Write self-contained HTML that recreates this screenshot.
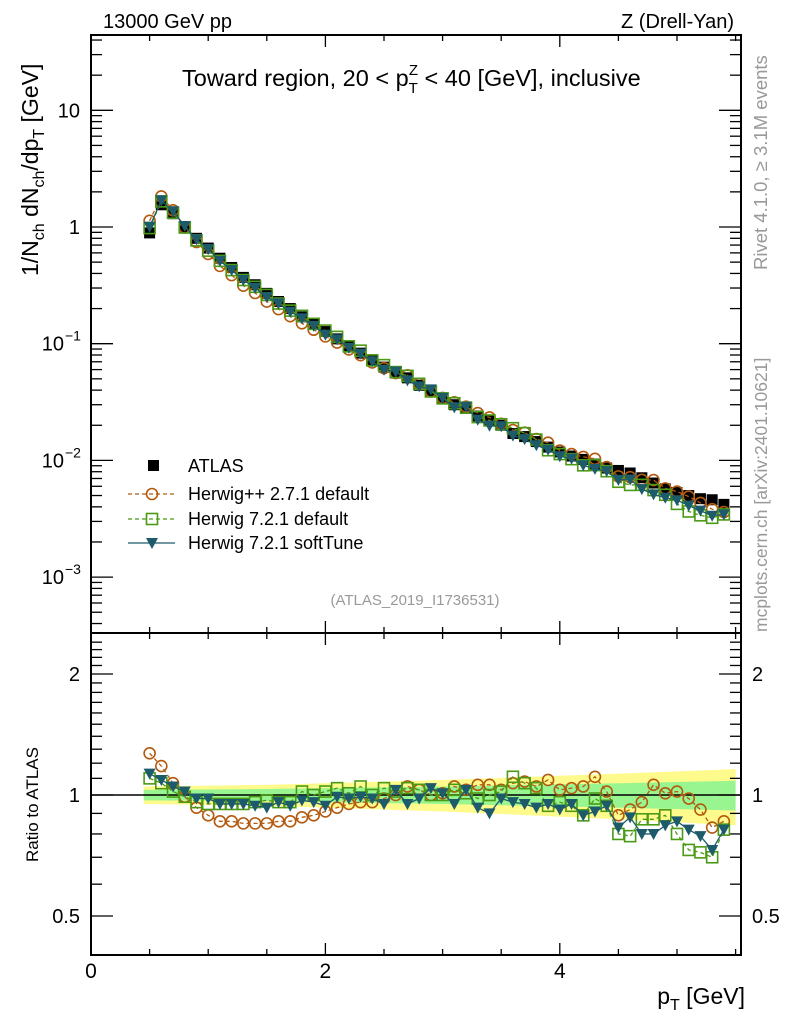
<!DOCTYPE html>
<html><head><meta charset="utf-8"><style>
html,body{margin:0;padding:0;background:#fff;width:786px;height:1024px;overflow:hidden}
svg{display:block;font-family:"Liberation Sans",sans-serif}
</style></head><body>
<svg id="chart" width="786" height="1024" xmlns="http://www.w3.org/2000/svg"></svg>
<script>
const xValues=[0.5,0.6,0.7,0.8,0.9,1.0,1.1,1.2,1.3,1.4,1.5,1.6,1.7,1.8,1.9,2.0,2.1,2.2,2.3,2.4,2.5,2.6,2.7,2.8,2.9,3.0,3.1,3.2,3.3,3.4,3.5,3.6,3.7,3.8,3.9,4.0,4.1,4.2,4.3,4.4,4.5,4.6,4.7,4.8,4.9,5.0,5.1,5.2,5.3,5.4];
const atlasValues=[0.89,1.55,1.3,1.0,0.80,0.66,0.54,0.45,0.37,0.32,0.27,0.23,0.20,0.17,0.148,0.127,0.11,0.094,0.083,0.072,0.063,0.056,0.051,0.044,0.039,0.034,0.030,0.028,0.024,0.022,0.020,0.017,0.016,0.0145,0.013,0.0118,0.0109,0.0102,0.0093,0.0086,0.0082,0.0078,0.0071,0.0064,0.0057,0.0053,0.0050,0.0047,0.0046,0.0042];
const ratioHerwigPP=[1.27,1.18,1.07,0.99,0.93,0.89,0.86,0.86,0.85,0.85,0.85,0.86,0.86,0.88,0.89,0.91,0.93,0.95,0.96,0.96,0.98,1.0,1.05,1.03,1.0,1.01,1.05,1.03,1.06,1.06,1.03,1.07,1.08,1.05,1.09,1.03,1.04,1.05,1.11,1.02,0.89,0.92,0.96,1.06,1.01,1.02,0.98,0.92,0.83,0.86];
const ratioHerwig721=[1.10,1.07,1.02,0.99,0.96,0.95,0.95,0.95,0.95,0.96,0.97,0.96,0.96,1.02,1.0,1.02,1.04,1.01,1.05,1.0,1.04,1.02,1.04,1.03,1.0,1.0,1.03,1.01,0.98,1.0,1.02,1.11,1.07,1.04,0.94,0.96,0.94,0.89,0.98,0.94,0.80,0.79,0.87,0.87,0.89,0.80,0.73,0.72,0.70,0.82];
const ratioSoftTune=[1.13,1.09,1.05,1.02,0.98,0.98,0.95,0.95,0.95,0.94,0.93,0.96,0.94,0.97,0.96,0.94,0.99,0.98,0.99,0.98,0.95,1.03,0.95,0.98,1.04,1.01,0.95,1.03,0.93,0.90,0.98,0.96,0.95,0.93,0.95,0.92,0.95,0.89,0.91,0.94,0.83,0.88,0.80,0.80,0.84,0.86,0.82,0.79,0.73,0.82];
const bandX=[0.45,1.5,3.0,4.5,5.5];
const bandInner=[0.03,0.035,0.05,0.07,0.085];
const bandOuter=[0.05,0.06,0.09,0.13,0.16];
const xTickLabels=["0","2","4"];
const mainTickLabels=[[1,"10"],[0,"1"],[-1,"10","−1"],[-2,"10","−2"],[-3,"10","−3"]];
const ratioTickLabels=[[2,"2"],[1,"1"],[0.5,"0.5"]];

const L=91,R=741,MT=35,MB=633,RT=633,RB=955;
const XMAX=(R-L)/117.2;
const sx=x=>L+x*117.2;
const sy=v=>227-Math.log10(v)*116.7;
const sr=r=>795-Math.log2(r)*121;
const svg=document.getElementById('chart');
const NS="http://www.w3.org/2000/svg";
function mk(tag,attrs,parent){const e=document.createElementNS(NS,tag);for(const k in attrs)e.setAttribute(k,attrs[k]);(parent||svg).appendChild(e);return e;}
function txt(s,attrs,parent){const e=mk('text',attrs,parent);e.textContent=s;return e;}

function bandPoly(arr,color,name){
  let up=bandX.map((x,i)=>sx(x)+','+sr(1+arr[i]));
  let dn=bandX.map((x,i)=>sx(x)+','+sr(1-arr[i])).reverse();
  const p=mk('polygon',{points:up.concat(dn).join(' '),fill:color});
  
  
}
bandPoly(bandOuter,'#fffa8c','ratio-band-total');
bandPoly(bandInner,'#98f590','ratio-band-stat');
const ref=mk('line',{x1:L,x2:R,y1:sr(1),y2:sr(1),stroke:'#000','stroke-width':1.5});



const f1=mk('rect',{x:L,y:MT,width:R-L,height:MB-MT,fill:'none',stroke:'#000','stroke-width':2});


const f2=mk('rect',{x:L,y:RT,width:R-L,height:RB-RT,fill:'none',stroke:'#000','stroke-width':2});



const axg=mk('g',{stroke:'#000','stroke-width':1.3});


for(let t=0;t<=XMAX+1e-6;t+=0.5){
  const maj=Math.abs(t%2)<1e-6, len=maj?12:6, x=sx(t);
  [[MT,1],[MB,-1],[RT,1],[RB,-1]].forEach(([y,d])=>mk('line',{x1:x,x2:x,y1:y,y2:y+d*len},axg));
}
xTickLabels.forEach((s,i)=>{const t=txt(s,{x:sx(i*2),y:978,'font-size':21,'text-anchor':'middle'});
  });
const yg=mk('g',{stroke:'#000','stroke-width':1.3});


for(let d=-4;d<=2;d++)for(let m=1;m<10;m++){
  const v=m*Math.pow(10,d),y=sy(v); if(y<MT||y>MB)continue;
  const len=m==1?22:11;
  mk('line',{x1:L,x2:L+len,y1:y,y2:y},yg);mk('line',{x1:R,x2:R-len,y1:y,y2:y},yg);
}
mainTickLabels.forEach(t=>{
  const y=sy(Math.pow(10,t[0]));
  const e=txt(t[1],{x:t[2]?64:80,y:y+7,'font-size':20,'text-anchor':'end'});
  
  if(t[2]){const s=txt(t[2],{x:65,y:y-3,'font-size':14});
    }
});
const rg=mk('g',{stroke:'#000','stroke-width':1.3});


[0.4,0.5,0.6,0.7,0.8,0.9,1,1.1,1.2,1.3,1.4,1.5,1.6,1.7,1.8,1.9,2,2.1,2.2,2.3,2.4].forEach(v=>{
  const y=sr(v); if(y<RT||y>RB)return;
  const maj=(v==0.5||v==1||v==2),len=maj?22:11;
  mk('line',{x1:L,x2:L+len,y1:y,y2:y},rg);mk('line',{x1:R,x2:R-len,y1:y,y2:y},rg);
});
ratioTickLabels.forEach(t=>{
  const y=sr(t[0])+7;
  const a=txt(t[1],{x:80,y:y,'font-size':20,'text-anchor':'end'});
  
  const b=txt(t[1],{x:752,y:y,'font-size':20});
  
});

const C_OR='#b35a0f',C_GR='#4b9a15',C_BL='#1d5b6b';
function drawCircle(g,x,y){mk('circle',{cx:x,cy:y,r:5.5,fill:'none',stroke:C_OR,'stroke-width':1.6},g);}
function drawSquare(g,x,y){mk('rect',{x:x-5.5,y:y-5.5,width:11,height:11,fill:'none',stroke:C_GR,'stroke-width':1.6},g);}
function drawTri(g,x,y){mk('polygon',{points:`${x-6},${y-5} ${x+6},${y-5} ${x},${y+6}`,fill:C_BL},g);}
function series(vals,ysc,color,dash,marker,name){
  const g=mk('g',{});
  
  
  mk('polyline',{points:vals.map((v,i)=>sx(xValues[i])+','+ysc(v)).join(' '),fill:'none',stroke:color,'stroke-width':1.3,'stroke-dasharray':dash},g);
  vals.forEach((v,i)=>marker(g,sx(xValues[i]),ysc(v)));
}
const ag=mk('g',{});


atlasValues.forEach((v,i)=>mk('rect',{x:sx(xValues[i])-5.5,y:sy(v)-5.5,width:11,height:11,fill:'#000'},ag));
series(atlasValues.map((v,i)=>v*ratioHerwigPP[i]),sy,C_OR,'4,3',drawCircle,'herwigpp-series');
series(atlasValues.map((v,i)=>v*ratioHerwig721[i]),sy,C_GR,'4,3',drawSquare,'herwig721-series');
series(atlasValues.map((v,i)=>v*ratioSoftTune[i]),sy,C_BL,'',drawTri,'softtune-series');
series(ratioHerwigPP,sr,C_OR,'4,3',drawCircle,'ratio-herwigpp-series');
series(ratioHerwig721,sr,C_GR,'4,3',drawSquare,'ratio-herwig721-series');
series(ratioSoftTune,sr,C_BL,'',drawTri,'ratio-softtune-series');

const lg=mk('g',{'font-size':18});


const le=[['ATLAS',466],['Herwig++ 2.7.1 default',494],['Herwig 7.2.1 default',519],['Herwig 7.2.1 softTune',543]];
mk('rect',{x:148,y:460,width:11,height:11,fill:'#000'},lg);
mk('line',{x1:128,x2:175,y1:494,y2:494,stroke:C_OR,'stroke-dasharray':'4,3','stroke-width':1.3},lg);drawCircle(lg,152,494);
mk('line',{x1:128,x2:175,y1:519,y2:519,stroke:C_GR,'stroke-dasharray':'4,3','stroke-width':1.3},lg);drawSquare(lg,152,519);
mk('line',{x1:128,x2:175,y1:543,y2:543,stroke:C_BL,'stroke-width':1.3},lg);drawTri(lg,152,543);
le.forEach(([s,y])=>{const t=txt(s,{x:188,y:y+6},lg);});
</script>
<svg width="786" height="1024" style="position:absolute;left:0;top:0;font-family:'Liberation Sans',sans-serif">
<text x="103" y="28" font-size="20">13000 GeV pp</text>
<text x="734" y="28" font-size="20" text-anchor="end">Z (Drell-Yan)</text>
<text x="182" y="86" font-size="23.5">Toward region, 20 &lt; p<tspan font-size="15" dy="7">T</tspan><tspan font-size="15" dx="-9" dy="-18">Z</tspan><tspan dy="11"> &lt; 40 [GeV], inclusive</tspan></text>
<text x="415" y="605" font-size="15" fill="#999" text-anchor="middle">(ATLAS_2019_I1736531)</text>
<text transform="translate(38,276) rotate(-90)" font-size="23">1/N<tspan font-size="16" dy="6">ch</tspan><tspan dy="-6"> dN</tspan><tspan font-size="16" dy="6">ch</tspan><tspan dy="-6">/dp</tspan><tspan font-size="16" dy="6">T</tspan><tspan dy="-6"> [GeV]</tspan></text>
<text transform="translate(38,862) rotate(-90)" font-size="17">Ratio to ATLAS</text>
<text x="745" y="1004" font-size="23" text-anchor="end">p<tspan font-size="16" dy="6">T</tspan><tspan dy="-6"> [GeV]</tspan></text>
<text transform="translate(767,270) rotate(-90)" font-size="18.5" fill="#999">Rivet 4.1.0, ≥ 3.1M events</text>
<text transform="translate(767,632) rotate(-90)" font-size="17.5" fill="#999">mcplots.cern.ch [arXiv:2401.10621]</text>
</svg>
</body></html>
